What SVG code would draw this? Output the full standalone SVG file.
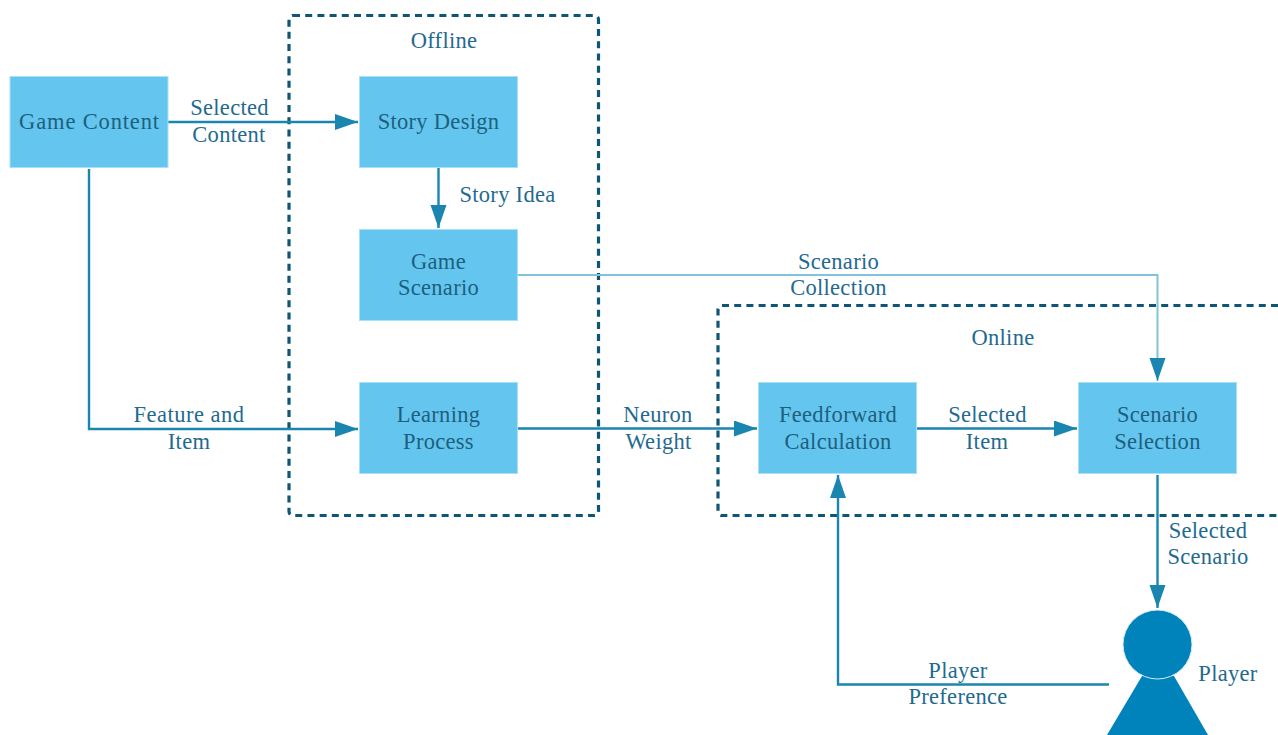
<svg xmlns="http://www.w3.org/2000/svg" width="1278" height="735" viewBox="0 0 1278 735">
<style>
text{font-family:"Liberation Serif","Times New Roman",serif;font-size:22.5px;text-anchor:middle;fill:#1f6a8f;letter-spacing:.3px}
.n{fill:#64c6ee;stroke:#a8e0f6;stroke-width:1}
.nt{fill:#1d5f80}
.c{fill:none;stroke:#1a86b0;stroke-width:2.4}
.l{fill:none;stroke:#7fc3dc;stroke-width:2}
.d{fill:none;stroke:#0e5673;stroke-width:3.2;stroke-dasharray:7 5.2}
.p{fill:#0083bb}
</style>
<defs>
<marker id="a" markerUnits="userSpaceOnUse" markerWidth="24" markerHeight="18" refX="23" refY="8" orient="auto"><path d="M0 0L23 8L0 16Z" fill="#1a86b0"/></marker>
</defs>
<g id="offline-box"><rect class="d" x="289" y="15.500" width="309.500" height="500" rx="4"/><text x="444" y="48">Offline</text></g>
<g id="online-box"><path class="d" d="M1278 305.500H722a4 4 0 0 0-4 4V511.500a4 4 0 0 0 4 4H1278"/><text x="1003" y="345">Online</text></g>
<g id="connectors">
<path class="c" d="M168 122H358" marker-end="url(#a)"/>
<path class="c" d="M438.500 168V228" marker-end="url(#a)"/>
<path class="c" d="M89 169V429H358" marker-end="url(#a)"/>
<path class="c" d="M518 428.500H757" marker-end="url(#a)"/>
<path class="c" d="M917 428.500H1077" marker-end="url(#a)"/>
<path class="c" d="M1157.500 475V608" marker-end="url(#a)"/>
<path class="c" d="M1109 684.500H838V475" marker-end="url(#a)"/>
<path class="l" d="M518 275H1157.500V381" marker-end="url(#a)"/>
</g>
<g id="game-content"><rect class="n" x="10" y="76.500" width="158" height="91"/><text class="nt" x="89.500" y="129" style="letter-spacing:.85px">Game Content</text></g>
<g id="story-design"><rect class="n" x="359.500" y="76.500" width="158" height="91"/><text class="nt" x="438.500" y="129">Story Design</text></g>
<g id="game-scenario"><rect class="n" x="359.500" y="229.500" width="158" height="91"/><text class="nt" x="438.500" y="268.500">Game</text><text class="nt" x="438.500" y="295">Scenario</text></g>
<g id="learning-process"><rect class="n" x="359.500" y="382.500" width="158" height="91"/><text class="nt" x="438.500" y="422">Learning</text><text class="nt" x="438.500" y="448.500">Process</text></g>
<g id="feedforward"><rect class="n" x="758.500" y="382.500" width="158" height="91"/><text class="nt" x="838" y="422">Feedforward</text><text class="nt" x="838" y="448.500">Calculation</text></g>
<g id="scenario-selection"><rect class="n" x="1078.500" y="382.500" width="158" height="91"/><text class="nt" x="1157.500" y="422">Scenario</text><text class="nt" x="1157.500" y="448.500">Selection</text></g>
<g id="player"><path class="p" d="M1142 676L1174 676L1208 735H1107Z"/><circle class="p" cx="1157.500" cy="644.500" r="34.500" stroke="#d5ecf5" stroke-width="1"/><text x="1228" y="681">Player</text></g>
<g id="labels">
<text x="229.500" y="115">Selected</text><text x="229" y="142">Content</text>
<text x="507.500" y="202">Story Idea</text>
<text x="838.500" y="268.500">Scenario</text><text x="838.500" y="295">Collection</text>
<text x="189" y="422" style="letter-spacing:.5px">Feature and</text><text x="189" y="448.500">Item</text>
<text x="658" y="422">Neuron</text><text x="658.500" y="448.500">Weight</text>
<text x="987.500" y="422">Selected</text><text x="987" y="448.500">Item</text>
<text x="1208" y="537.500">Selected</text><text x="1208" y="564">Scenario</text>
<text x="958" y="677.500">Player</text><text x="958" y="704">Preference</text>
</g>
</svg>
